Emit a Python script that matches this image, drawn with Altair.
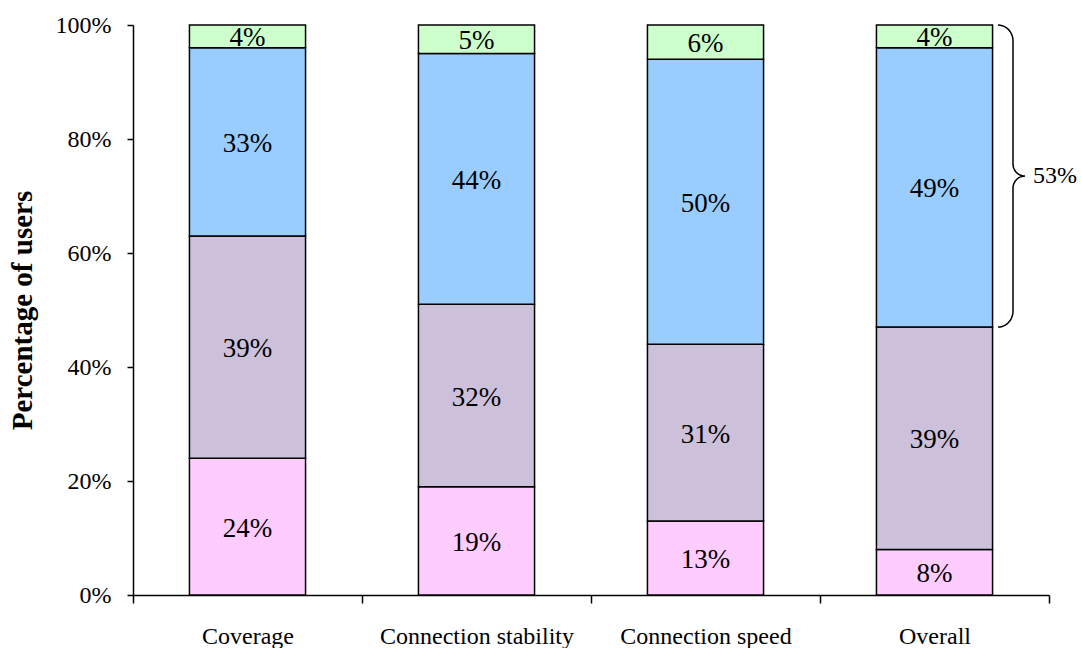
import altair as alt
import pandas as pd
import numpy as np

categories = ["Coverage", "Connection stability", "Connection speed", "Overall"]
series = ["Level 1", "Level 2", "Level 3", "Level 4"]
values = {
    "Level 1": [24, 19, 13, 8],
    "Level 2": [39, 32, 31, 39],
    "Level 3": [33, 44, 50, 49],
    "Level 4": [4, 5, 6, 4],
}
colors = ["#FFCCFF", "#CCC0DA", "#99CCFF", "#CCFFCC"]
y_ticks = [0, 20, 40, 60, 80, 100]

W, H = 916, 570
FONT = "Liberation Serif"

rows = []
for ci, cat in enumerate(categories):
    base = 0
    for s in series:
        v = values[s][ci]
        rows.append({"cat": cat, "series": s, "y0": base, "y1": base + v,
                     "mid": base + v / 2, "label": f"{v}%"})
        base += v
df = pd.DataFrame(rows)

# brace around the top two segments of "Overall"
lo = values["Level 1"][3] + values["Level 2"][3]
hi = lo + values["Level 3"][3] + values["Level 4"][3]
mid = (lo + hi) / 2
px_per_unit = H / 100
x0, x1, x2 = W - 51, W - 36, W - 24
ry = 16 / px_per_unit
ry2 = 12 / px_per_unit
pts = []
t = np.linspace(0, np.pi / 2, 12)
for a in t:
    pts.append((x0 + (x1 - x0) * np.sin(a), hi - ry + ry * np.cos(a)))
for a in t:
    pts.append((x2 - (x2 - x1) * np.cos(a), mid + ry2 - ry2 * np.sin(a)))
for a in t[::-1]:
    pts.append((x2 - (x2 - x1) * np.cos(a), mid - ry2 + ry2 * np.sin(a)))
for a in t[::-1]:
    pts.append((x0 + (x1 - x0) * np.sin(a), lo + ry - ry * np.cos(a)))
brace = pd.DataFrame({"bx": [p[0] for p in pts], "by": [p[1] for p in pts],
                      "i": list(range(len(pts)))})
brace_label = pd.DataFrame({"by": [mid], "label": [f"{hi - lo}%"]})

y_axis = alt.Axis(
    values=y_ticks, labelExpr="datum.value + '%'", labelFont=FONT, labelFontSize=24,
    labelColor="black", tickSize=6, tickColor="black", tickWidth=1.5,
    domainColor="black", domainWidth=1.5, labelPadding=16, grid=False,
    titleFont=FONT, titleFontSize=29, titleFontWeight="bold", titleColor="black",
    titleX=-111, titleY=H / 2, titleAlign="center", titleBaseline="middle", titleAngle=-90,
)
y_scale = alt.Scale(domain=[0, 100], nice=False)
TITLE = "Percentage of users"

x_enc = alt.X("cat:N", sort=categories, title=None,
              scale=alt.Scale(paddingInner=0, paddingOuter=0),
              axis=alt.Axis(labelAngle=0, tickBand="extent", tickSize=8, tickColor="black",
                            tickWidth=1.5, domainColor="black", domainWidth=1.5,
                            labelFont=FONT, labelFontSize=24, labelColor="black",
                            labelPadding=21, labelLimit=0, grid=False))

bars = alt.Chart(df).mark_bar(width={"band": 0.507}, stroke="black", strokeWidth=1.5).encode(
    x=x_enc,
    y=alt.Y("y0:Q", scale=y_scale, axis=y_axis, title=TITLE),
    y2="y1:Q",
    color=alt.Color("series:N", scale=alt.Scale(domain=series, range=colors), legend=None),
)

texts = alt.Chart(df).mark_text(font=FONT, fontSize=27, color="black", baseline="middle",
                                dy=2).encode(
    x=x_enc,
    y=alt.Y("mid:Q", scale=y_scale, axis=y_axis, title=TITLE),
    text="label:N",
)

brace_line = alt.Chart(brace).mark_line(color="black", strokeWidth=1.5).encode(
    x=alt.X("bx:Q", scale=None, axis=None),
    y=alt.Y("by:Q", scale=y_scale, axis=y_axis, title=TITLE),
    order="i:Q",
)

brace_text = alt.Chart(brace_label).mark_text(font=FONT, fontSize=24, color="black",
                                              align="left", baseline="middle").encode(
    x=alt.value(W - 16),
    y=alt.Y("by:Q", scale=y_scale, axis=y_axis, title=TITLE),
    text="label:N",
)

chart = alt.layer(bars, texts, brace_line, brace_text).properties(
    width=W, height=H,
    autosize=alt.AutoSizeParams(type="none"),
    padding={"left": 133, "top": 25, "right": 32, "bottom": 53},
    background="white",
).configure_view(stroke=None)

chart.save("out.html", embed_options={"renderer": "svg", "actions": False})
